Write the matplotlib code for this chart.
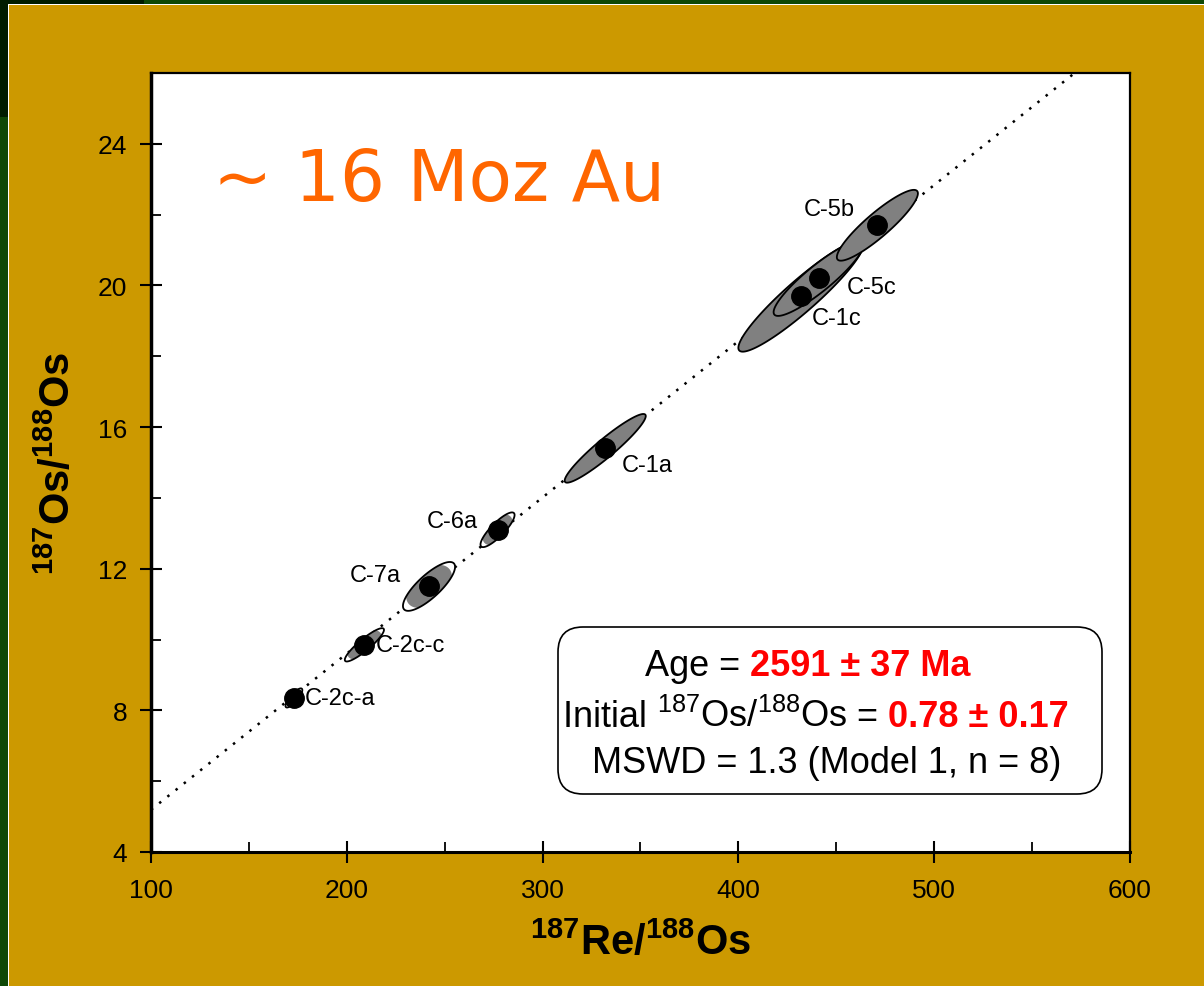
import numpy as np
import matplotlib
matplotlib.use("Agg")
import matplotlib.pyplot as plt
from matplotlib.patches import Polygon, Rectangle, FancyBboxPatch
from matplotlib.transforms import IdentityTransform

plt.rcParams['font.family'] = ['Liberation Sans', 'DejaVu Sans']
plt.rcParams['mathtext.fontset'] = 'custom'
plt.rcParams['mathtext.rm'] = 'Liberation Sans'
plt.rcParams['mathtext.bf'] = 'Liberation Sans:bold'

# isochron data
labels = ['C-2c-a', 'C-2c-c', 'C-7a', 'C-6a', 'C-1a', 'C-1c', 'C-5c', 'C-5b']
re_os = [173, 209, 242, 277, 332, 432, 441, 471]
os_os = [8.35, 9.85, 11.5, 13.1, 15.4, 19.7, 20.2, 21.7]
err_x = [4.3, 10.0, 13.3, 8.7, 20.7, 32.0, 23.0, 20.7]
err_y = [0.27, 0.47, 0.69, 0.49, 0.97, 1.57, 1.06, 1.0]
rho = [0.82, 0.9, 0.8, 0.85, 0.94, 0.93, 0.9, 0.9]
# shaded part of each ellipse (grey), the rest stays white
rho_fill = [0.45, 0.55, 0.45, 0.5, 0.94, 0.93, 0.9, 0.9]
fill_scale = [0.88, 0.88, 0.88, 0.88, 1, 1, 1, 1]

age_ma = 2591
initial = 0.78
lam = 1.666e-11

label_off = [(8, 0), (8, 0), (-20, 8), (-14, 6), (12, -12), (8, -16), (20, -6), (-16, 12)]


def ellipse_xy(cx, cy, sx, sy, r, n=200):
    t = np.linspace(0, 2 * np.pi, n)
    x = cx + sx * np.cos(t)
    y = cy + sy * (r * np.cos(t) + np.sqrt(1 - r ** 2) * np.sin(t))
    return np.column_stack([x, y])


fig = plt.figure(figsize=(12.04, 9.87), dpi=100)
fig.patch.set_facecolor('#0E4806')
fig.patches.append(Rectangle((0, 0.88), 0.12, 0.12, transform=fig.transFigure,
                             facecolor='#001C00', edgecolor='none', zorder=-5))
fig.patches.append(Rectangle((0.0066, 0), 1, 0.9947, transform=fig.transFigure,
                             facecolor='white', edgecolor='none', zorder=-4))
fig.patches.append(Rectangle((0.0078, 0), 1, 0.9935, transform=fig.transFigure,
                             facecolor='#CC9900', edgecolor='none', zorder=-3))

ax = fig.add_axes([0.1254, 0.1358, 0.8131, 0.7892])
ax.set_facecolor('white')
ax.set_xlim(100, 600)
ax.set_ylim(4, 26)

# regression line
slope = np.exp(lam * age_ma * 1e6) - 1
xl = np.array([100, 600])
ax.plot(xl, initial + slope * xl, color='black', lw=1.8, ls=(0, (1.0, 3.2)), zorder=1)

for i in range(len(labels)):
    outer = Polygon(ellipse_xy(re_os[i], os_os[i], err_x[i], err_y[i], rho[i]),
                    closed=True, facecolor='white', edgecolor='none', zorder=2 + i)
    ax.add_patch(outer)
    k = fill_scale[i]
    inner = Polygon(ellipse_xy(re_os[i], os_os[i], err_x[i] * k, err_y[i] * k, rho_fill[i]),
                    closed=True, facecolor='#808080', edgecolor='none', zorder=2 + i)
    ax.add_patch(inner)
    inner.set_clip_path(outer)
    ax.add_patch(Polygon(ellipse_xy(re_os[i], os_os[i], err_x[i], err_y[i], rho[i]),
                         closed=True, facecolor='none', edgecolor='black', lw=1.3, zorder=2 + i))

ax.plot(re_os, os_os, 'o', color='black', ms=14, zorder=20)

for i, lab in enumerate(labels):
    dx, dy = label_off[i]
    ha = 'left' if dx > 0 else 'right'
    ax.annotate(lab, (re_os[i], os_os[i]), xytext=(dx, dy), textcoords='offset points',
                ha=ha, va='center', fontsize=17, zorder=21)

ax.set_xticks([100, 200, 300, 400, 500, 600])
ax.set_xticks(np.arange(150, 600, 100), minor=True)
ax.set_yticks([4, 8, 12, 16, 20, 24])
ax.set_yticks(np.arange(6, 26, 4), minor=True)
ax.tick_params(which='major', direction='inout', length=16, width=1.5, labelsize=19)
ax.tick_params(axis='x', which='major', pad=11)
ax.tick_params(axis='y', which='major', pad=9)
ax.tick_params(which='minor', direction='in', length=7, width=1.3)
for s in ax.spines.values():
    s.set_linewidth(1.6)
ax.spines['left'].set_linewidth(2.5)
ax.spines['bottom'].set_linewidth(2.2)

ax.set_xlabel(r'$\mathbf{^{187}Re/^{188}Os}$', fontsize=30, labelpad=14)
ax.set_ylabel(r'$\mathbf{^{187}Os/^{188}Os}$', fontsize=30, labelpad=14)

ax.text(0.063, 0.862, '~ 16 Moz Au', transform=ax.transAxes, fontsize=51,
        color='#FF6600', family='DejaVu Sans', va='center', ha='left')

# results box, in pixel coordinates
box = FancyBboxPatch((558, 192), 544, 167, boxstyle='round,pad=0,rounding_size=25',
                     transform=IdentityTransform(), facecolor='white', edgecolor='black',
                     lw=1.2, zorder=22)
ax.add_artist(box)

fig.canvas.draw()
r = fig.canvas.get_renderer()


def chain(x, y, parts):
    # draw consecutive text pieces on one line, starting at data point (x, y)
    px, py = ax.transData.transform((x, y))
    inv = fig.transFigure.inverted()
    for txt, kw in parts:
        fx, fy = inv.transform((px, py))
        tt = fig.text(fx, fy, txt, ha='left', va='baseline', zorder=30, **kw)
        bb = tt.get_window_extent(renderer=r)
        px = bb.x1


fs = 26
chain(352.3, 8.99, [('Age = ', dict(fontsize=fs)),
                    ('2591 ± 37 Ma', dict(fontsize=fs, color='red', fontweight='bold'))])
chain(310.4, 7.55, [('Initial ', dict(fontsize=fs)),
                    (r'$^{187}$Os/$^{188}$Os', dict(fontsize=fs)),
                    (' = ', dict(fontsize=fs)),
                    ('0.78 ± 0.17', dict(fontsize=fs, color='red', fontweight='bold'))])
chain(325.2, 6.26, [('MSWD = 1.3 (Model 1, n = 8)', dict(fontsize=fs))])

fig.savefig('out.png', dpi=100, facecolor=fig.get_facecolor())
